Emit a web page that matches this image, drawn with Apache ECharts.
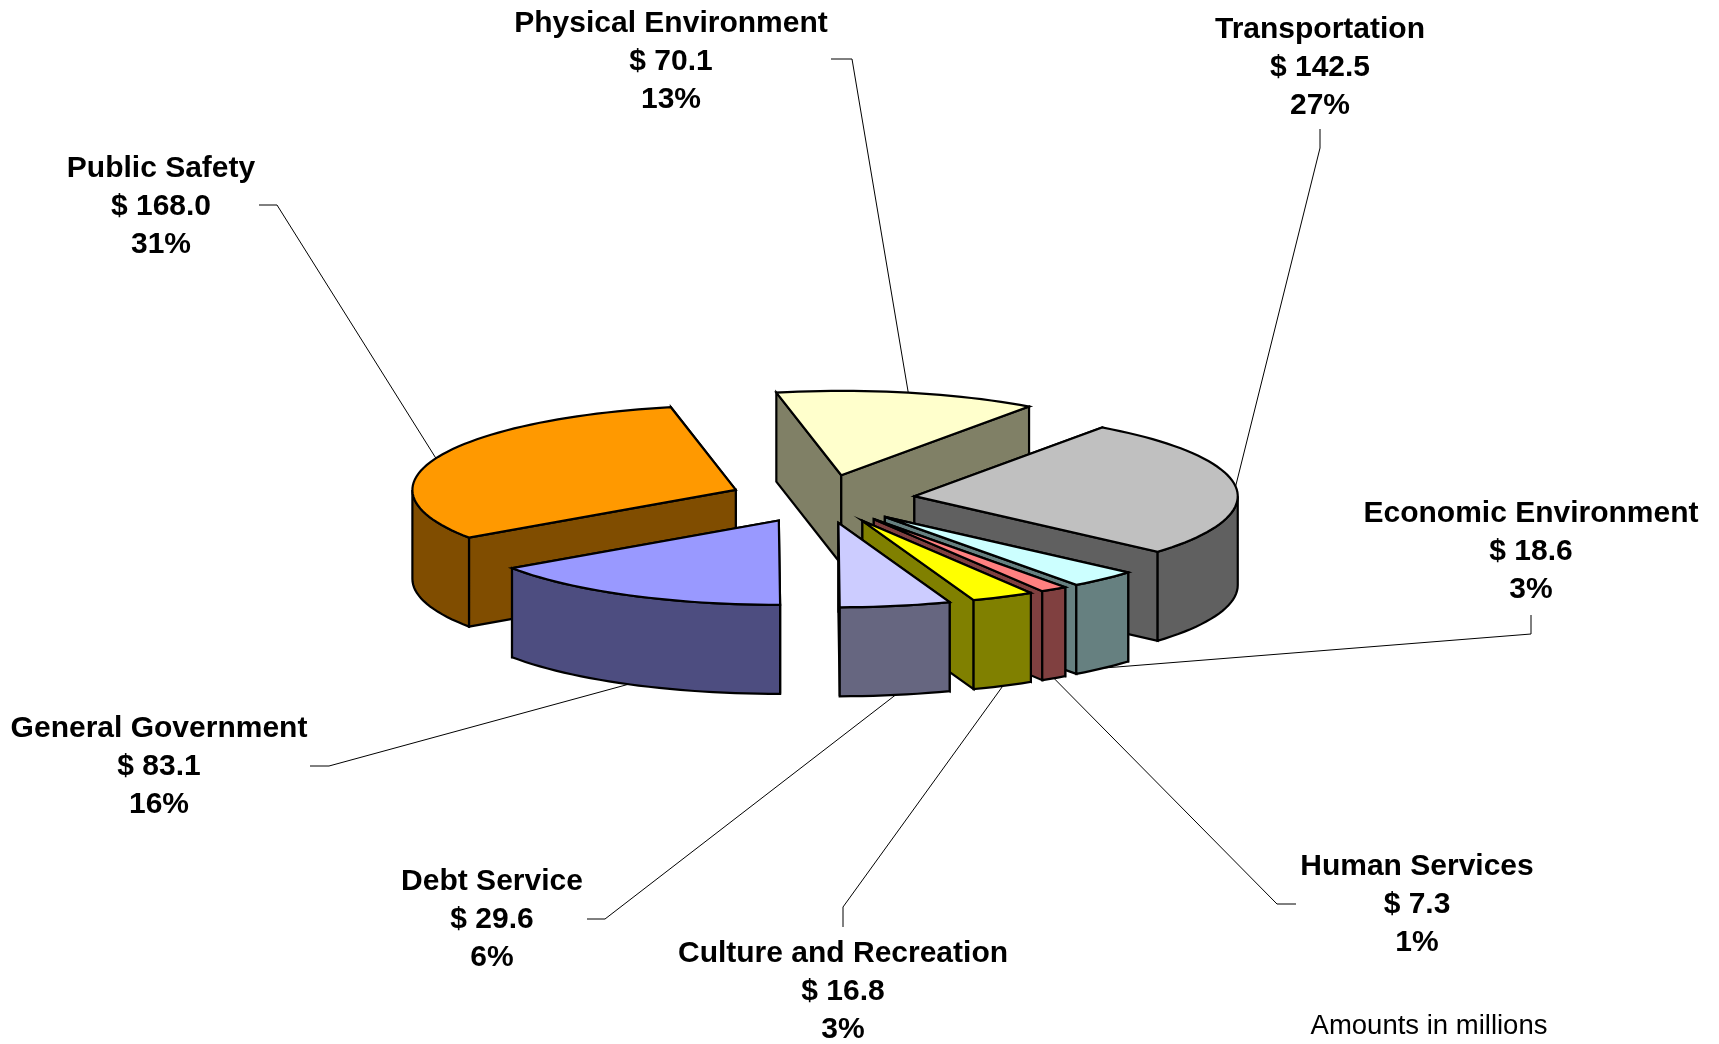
<!DOCTYPE html>
<html>
<head>
<meta charset="utf-8">
<title>Amounts in millions</title>
<script src="https://cdn.jsdelivr.net/npm/echarts@6/dist/echarts.min.js"></script>
<style>
html, body { margin: 0; padding: 0; background: #fff; }
#chart { width: 1719px; height: 1044px; }
</style>
</head>
<body>
<div id="chart"></div>
<script>
// clockwise from the first slice
var categories = ["Transportation", "Economic Environment", "Human Services", "Culture and Recreation", "Debt Service", "General Government", "Public Safety", "Physical Environment"];
var amounts = [142.5, 18.6, 7.3, 16.8, 29.6, 83.1, 168.0, 70.1];
var percents = [27, 3, 1, 3, 6, 16, 31, 13];
var topColors = ["#C0C0C0", "#CCFFFF", "#FF8080", "#FFFF00", "#CCCCFF", "#9999FF", "#FF9900", "#FFFFCC"];
var wallColors = ["#606060", "#668080", "#804040", "#808000", "#666680", "#4D4D80", "#804D00", "#808066"];

// label centre, then leader elbow and leader end, in page pixels
var labelPos = [[1320, 68], [1531, 552], [1417, 905], [843, 992], [492, 920], [159, 767], [161, 207], [671, 62]];
var leaderBend = [[1320, 148], [1531, 634], [1277, 904], [843, 907], [605, 919], [329, 766], [277, 205], [852, 59]];
var leaderEnd = [[1320, 129], [1531, 615], [1296, 904], [843, 927], [587, 919], [310, 766], [259, 205], [831, 59]];

// pie projection
var cx = 822, cy = 499, rx = 323.4, ry = 84.4, wall = 89, explode = 0.2875, firstAngle = 35.5;

var total = 0;
for (var i = 0; i < amounts.length; i++) total += amounts[i];

function pt(ang, r) {
    var a = ang * Math.PI / 180;
    return [r * rx * Math.sin(a), -r * ry * Math.cos(a)];
}

var slices = [], run = firstAngle;
for (var i = 0; i < amounts.length; i++) {
    var sweep = amounts[i] / total * 360;
    var mid = run + sweep / 2, off = pt(mid, explode);
    slices.push({start: run, end: run + sweep, mid: mid, ox: cx + off[0], oy: cy + off[1]});
    run += sweep;
}

// back slices first, the front ones paint over them
var order = categories.map(function (c, i) { return i; }).sort(function (a, b) {
    return Math.cos(slices[b].mid * Math.PI / 180) - Math.cos(slices[a].mid * Math.PI / 180);
});
var seriesData = order.map(function (i) { return [i, amounts[i]]; });

function arc(s, from, to, dy) {
    var pts = [], n = Math.max(2, Math.ceil((to - from) / 2));
    for (var k = 0; k <= n; k++) {
        var p = pt(from + (to - from) * k / n, 1);
        pts.push([s.ox + p[0], s.oy + p[1] + dy]);
    }
    return pts;
}

function face(pts, fill) {
    return {
        type: "polygon",
        shape: {points: pts},
        style: {fill: fill, stroke: "#000", lineWidth: 2.2, lineJoin: "miter"}
    };
}

function radial(s, ang, fill) {
    var p = pt(ang, 1);
    return face([[s.ox, s.oy], [s.ox + p[0], s.oy + p[1]], [s.ox + p[0], s.oy + p[1] + wall], [s.ox, s.oy + wall]], fill);
}

function renderSlice(params, api) {
    var i = api.value(0), s = slices[i], kids = [];

    // hidden radial wall goes first
    var first = Math.cos(s.start * Math.PI / 180) > Math.cos(s.end * Math.PI / 180) ? s.start : s.end;
    var second = first == s.start ? s.end : s.start;
    kids.push(radial(s, first, wallColors[i]));
    kids.push(radial(s, second, wallColors[i]));

    // outer wall, only the part facing the viewer
    for (var turn = 90; turn <= 450; turn += 360) {
        var from = Math.max(s.start, turn), to = Math.min(s.end, turn + 180);
        if (to > from) {
            kids.push(face(arc(s, from, to, 0).concat(arc(s, from, to, wall).reverse()), wallColors[i]));
        }
    }

    kids.push(face([[s.ox, s.oy]].concat(arc(s, s.start, s.end, 0)), topColors[i]));

    // leader starts on the rim at the middle of the slice
    var m = pt(s.mid, 1), isFront = Math.cos(s.mid * Math.PI / 180) < 0;
    kids.push({
        type: "polyline",
        shape: {points: [[s.ox + m[0], s.oy + m[1] + (isFront ? wall : 0)], leaderBend[i], leaderEnd[i]]},
        style: {fill: null, stroke: "#000", lineWidth: 1}
    });

    kids.push({
        type: "text",
        style: {
            text: categories[i] + "\n$ " + api.value(1).toFixed(1) + "\n" + percents[i] + "%",
            x: labelPos[i][0],
            y: labelPos[i][1],
            align: "center",
            verticalAlign: "middle",
            fill: "#000",
            font: "bold 30px 'Liberation Sans', Arial, sans-serif",
            lineHeight: 38
        }
    });
    return {type: "group", children: kids};
}

var myChart = echarts.init(document.getElementById("chart"), null, {renderer: "canvas"});
myChart.setOption({
    animation: false,
    backgroundColor: "#fff",
    series: [{
        type: "custom",
        coordinateSystem: "none",
        silent: true,
        clip: false,
        data: seriesData,
        renderItem: renderSlice
    }],
    graphic: [{
        type: "text",
        silent: true,
        style: {
            text: "Amounts in millions",
            x: 1429,
            y: 1026,
            align: "center",
            verticalAlign: "middle",
            fill: "#000",
            font: "27.5px 'Liberation Sans', Arial, sans-serif"
        }
    }]
});
</script>
</body>
</html>
